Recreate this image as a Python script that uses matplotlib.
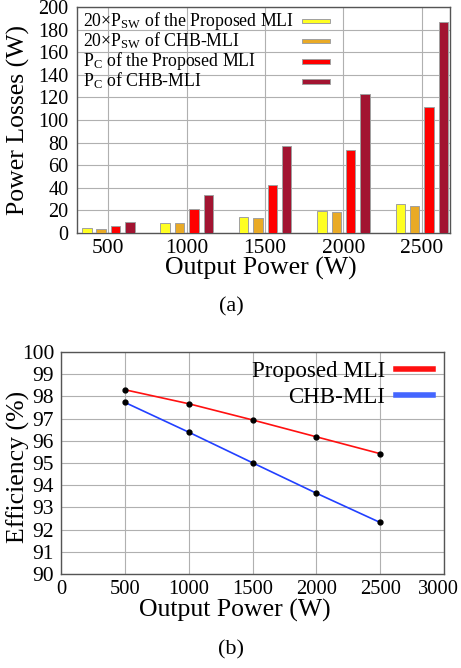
import numpy as np
import matplotlib
matplotlib.use("Agg")
import matplotlib.pyplot as plt
import matplotlib.transforms as mtransforms
from matplotlib.lines import Line2D
from matplotlib.patches import Rectangle

plt.rcParams.update({
    "font.family": "Liberation Serif",
    "mathtext.fontset": "custom",
    "mathtext.rm": "Liberation Serif",
    "mathtext.it": "Liberation Serif:italic",
})

# (a) power losses
powers = ["500", "1000", "1500", "2000", "2500"]
psw_prop = [4.4, 9.1, 14.5, 19.6, 26.0]     # 20 x P_SW, proposed MLI
psw_chb = [3.9, 9.1, 13.3, 18.3, 24.2]      # 20 x P_SW, CHB-MLI
pc_prop = [6.6, 21.0, 42.8, 73.7, 111.8]    # P_C, proposed MLI
pc_chb = [9.8, 33.6, 77.3, 123.3, 187.0]    # P_C, CHB-MLI
bar_labels = [r"20×P$_\mathrm{SW}$ of the Proposed MLI",
              r"20×P$_\mathrm{SW}$ of CHB-MLI",
              r"P$_\mathrm{C}$ of the Proposed MLI",
              r"P$_\mathrm{C}$ of CHB-MLI"]
bar_colors = ["#FFFF22", "#E9AA26", "#FF0000", "#A21431"]

# (b) efficiency
p_out = [500, 1000, 1500, 2000, 2500]
eff_prop = [98.30, 97.67, 96.94, 96.18, 95.42]
eff_chb = [97.73, 96.39, 95.01, 93.64, 92.32]

W, H = 461, 668
fig = plt.figure(figsize=(W/100, H/100), dpi=100)

def px_axes(l, t, r, b):
    return fig.add_axes([l/W, 1-b/H, (r-l)/W, (b-t)/H])

GRID = dict(color="#b0b0b0", lw=0.8)
FRAME = "#555555"

# ---------------- (a) ----------------
ax = px_axes(77, 7, 450, 233)
xp = np.arange(len(powers))
step, bw = 0.183, 0.12
for i, (vals, c) in enumerate(zip([psw_prop, psw_chb, pc_prop, pc_chb], bar_colors)):
    ax.bar(xp + (i-1.5)*step, vals, bw, color=c, edgecolor="#a0a0a0", lw=0.7, zorder=3)
ax.set_xlim(-0.4, 4.36); ax.set_ylim(0, 200)
ax.set_xticks(xp); ax.set_xticklabels(powers, fontsize=15.5)
ax.set_yticks(np.arange(0, 201, 20))
ax.tick_params(axis="y", labelsize=14.5, length=0, pad=6)
ax.tick_params(axis="x", length=0, pad=4)
ax.grid(True, **GRID, zorder=0); ax.set_axisbelow(True)
for s in ax.spines.values():
    s.set_color(FRAME); s.set_linewidth(1.0)
ax.set_ylabel("Power Losses (W)", fontsize=18.5, va="center")
ax.yaxis.set_label_coords(-0.158, 0.5)
ax.set_xlabel("Output Power (W)", fontsize=18.5, va="center")
ax.xaxis.set_label_coords(0.493, -0.158)
for i, (lab, c) in enumerate(zip(bar_labels, bar_colors)):
    yy = 0.938 - i*0.0885
    ax.text(0.016, yy, lab, transform=ax.transAxes, fontsize=12.8, va="center", ha="left")
    ax.add_patch(Rectangle((0.603, yy-0.011), 0.075, 0.022, transform=ax.transAxes,
                           facecolor=c, edgecolor="#a0a0a0", lw=0.7, zorder=4))
fig.text(231/W, 1-307/H, "(a)", ha="center", va="center", fontsize=16)

# ---------------- (b) ----------------
ax = px_axes(61, 352, 444, 574)
ax.plot(p_out, eff_prop, color="#FF1010", lw=1.2, marker="o", ms=3.5,
        mfc="black", mec="black", zorder=3)
ax.plot(p_out, eff_chb, color="#2240FF", lw=1.2, marker="o", ms=3.5,
        mfc="black", mec="black", zorder=3)
ax.set_xlim(0, 3000); ax.set_ylim(90, 100)
ax.set_xticks(np.arange(0, 3001, 500)); ax.set_yticks(np.arange(90, 101, 1))
ax.tick_params(axis="x", labelsize=14.8, length=0, pad=4)
ax.tick_params(axis="y", labelsize=15.5, length=0, pad=5)
# keep the last x label inside the figure, as in the original
last = ax.get_xticklabels()[-1]
last.set_transform(last.get_transform() +
                   mtransforms.ScaledTranslation(-0.06, 0, fig.dpi_scale_trans))
ax.grid(True, **GRID, zorder=0); ax.set_axisbelow(True)
for s in ax.spines.values():
    s.set_color(FRAME); s.set_linewidth(1.0)
ax.set_ylabel("Efficiency (%)", fontsize=18.5, va="center")
ax.yaxis.set_label_coords(-0.112, 0.482)
ax.set_xlabel("Output Power (W)", fontsize=18.5, va="center")
ax.xaxis.set_label_coords(0.454, -0.162)
handles = [Line2D([], [], color="#FF1010", lw=4), Line2D([], [], color="#4466FF", lw=4)]
ax.legend(handles, ["Proposed MLI", "CHB-MLI"], loc="upper right", bbox_to_anchor=(0.971, 0.96),
          frameon=False, markerfirst=False, fontsize=16.5, handlelength=1.6,
          handletextpad=0.5, labelspacing=0.22, borderpad=0, borderaxespad=0)
fig.text(231/W, 1-650/H, "(b)", ha="center", va="center", fontsize=16)

fig.savefig("out.png", dpi=100)
